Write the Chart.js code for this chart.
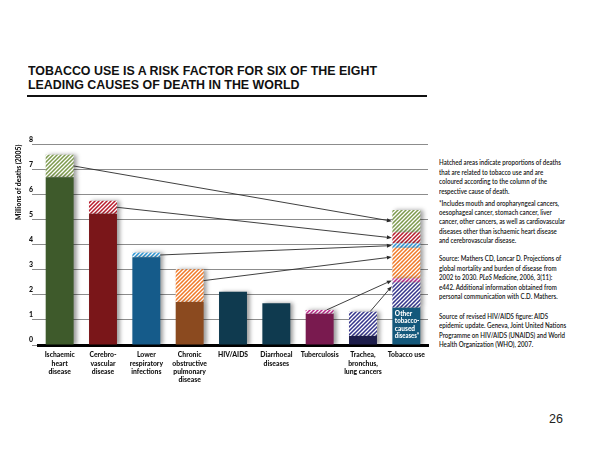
<!DOCTYPE html>
<html>
<head>
<meta charset="utf-8">
<script src="https://cdn.jsdelivr.net/npm/chart.js@4.4.1/dist/chart.umd.min.js"></script>
<style>
  html,body{margin:0;padding:0;background:#fff;}
  body{width:600px;height:450px;position:relative;overflow:hidden;}
  #title{position:absolute;left:28px;top:64.4px;font-family:"Liberation Sans",Arial,sans-serif;font-weight:bold;font-size:13px;line-height:13.6px;color:#111;white-space:nowrap;}
  #title div{transform-origin:0 0;display:block;}
  #title span{display:inline-block;}
  #rule{position:absolute;left:27px;top:94.5px;width:400px;height:2.5px;background:#111;}
  #chartWrap{position:absolute;left:0;top:130px;width:432px;height:260px;}
  #notes{position:absolute;left:439px;top:0;font-family:Lato,"Liberation Sans",sans-serif;font-weight:600;font-size:7.8px;line-height:9.4px;color:#161616;white-space:nowrap;transform-origin:0 0;}
  #notes .p{position:absolute;left:0;}
  #page{position:absolute;left:549px;top:413px;font-family:"Liberation Sans",Arial,sans-serif;font-size:12.5px;line-height:12.5px;color:#222;}
</style>
</head>
<body>
<div id="title">
  <div id="t1"><span>TOBACCO USE IS A RISK FACTOR FOR SIX OF THE EIGHT</span></div>
  <div id="t2"><span>LEADING CAUSES OF DEATH IN THE WORLD</span></div>
</div>
<div id="rule"></div>
<div id="chartWrap"><canvas id="c" width="432" height="260"></canvas></div>
<div id="notes">
  <div class="p" style="top:158.3px">Hatched areas indicate proportions of deaths<br>that are related to tobacco use and are<br>coloured according to the column of the<br>respective cause of death.</div>
  <div class="p" style="top:198.6px">*Includes mouth and oropharyngeal cancers,<br>oesophageal cancer, stomach cancer, liver<br><span id="widest">cancer, other cancers, as well as cardiovascular</span><br>diseases other than ischaemic heart disease<br>and cerebrovascular disease.</div>
  <div class="p" style="top:254.3px">Source: Mathers CD, Loncar D. Projections of<br>global mortality and burden of disease from<br>2002 to 2030. <i>PLoS Medicine</i>, 2006, 3(11):<br>e442. Additional information obtained from<br>personal communication with C.D. Mathers.</div>
  <div class="p" style="top:312px">Source of revised HIV/AIDS figure: AIDS<br>epidemic update. Geneva, Joint United Nations<br>Programme on HIV/AIDS (UNAIDS) and World<br>Health Organization (WHO), 2007.</div>
</div>
<div id="page">26</div>
<script>
// ---------- DATA ----------
const categories = [
  ["Ischaemic","heart","disease"],
  ["Cerebro-","vascular","disease"],
  ["Lower","respiratory","infections"],
  ["Chronic","obstructive","pulmonary","disease"],
  ["HIV/AIDS"],
  ["Diarrhoeal","diseases"],
  ["Tuberculosis"],
  ["Trachea,","bronchus,","lung cancers"],
  ["Tobacco use"]
];
// millions of deaths (2005), non-tobacco (solid) part; last = "Other tobacco-caused diseases"
const solidValues = [6.7, 5.24, 3.5, 1.72, 2.13, 1.67, 1.25, 0.36, 1.49];
// tobacco-related (hatched) part of each cause
const hatchedValues = [0.9, 0.52, 0.19, 1.31, null, null, 0.15, 0.97, null];
// segments of the "Tobacco use" column, bottom to top
const tobaccoPartNames = ["Trachea, bronchus, lung cancers","Tuberculosis","Chronic obstructive pulmonary disease","Lower respiratory infections","Cerebrovascular disease","Ischaemic heart disease"];
const tobaccoPartValues = [1.01, 0.16, 1.22, 0.18, 0.44, 0.89];
const tobaccoPartSource = [7, 6, 3, 2, 1, 0];
const yTickValues = [0,1,2,3,4,5,6,7,8];
const otherLabelLines = ["Other","tobacco-","caused","diseases*"];

// ---------- STYLE ----------
const solidColors = ["#3e5a2b","#7a1619","#155b8a","#8b4a1f","#0f3a4f","#0f3a4f","#791a4f","#1d1d4b","#14587b"];
const hatchColors = ["#7d9a4e","#b81d2d","#2c98d8","#f07a28","#c0288c","#c0288c","#c0288c","#36368c","#36368c"];

function hatchPattern(bg){
  const s = 4;
  const c = document.createElement('canvas'); c.width = s; c.height = s;
  const x = c.getContext('2d');
  x.fillStyle = bg; x.fillRect(0,0,s,s);
  x.strokeStyle = '#ffffff'; x.lineWidth = 1.3;
  x.beginPath();
  x.moveTo(0,s); x.lineTo(s,0);
  x.moveTo(-1,1); x.lineTo(1,-1);
  x.moveTo(s-1,s+1); x.lineTo(s+1,s-1);
  x.stroke();
  return document.getElementById('c').getContext('2d').createPattern(c,'repeat');
}

const fontFam = "Lato,'Liberation Sans',sans-serif";

const datasets = [
  {label:"Deaths", data: solidValues, backgroundColor: solidColors},
  {label:"Tobacco-related", data: hatchedValues, backgroundColor: hatchedValues.map((v,i)=>hatchPattern(hatchColors[i]))}
];
tobaccoPartValues.forEach((v,k)=>{
  const arr = categories.map(()=>null); arr[8] = v;
  datasets.push({label: tobaccoPartNames[k], data: arr, backgroundColor: hatchPattern(hatchColors[tobaccoPartSource[k]])});
});
datasets.forEach(d=>{ d.borderWidth = 0; d.categoryPercentage = 1; d.barPercentage = 0.645; });

const shadowPlugin = {
  id:'shadow',
  beforeDatasetsDraw(chart){
    const ctx = chart.ctx; ctx.save();
    ctx.shadowColor = 'rgba(0,0,0,0.38)'; ctx.shadowBlur = 4; ctx.shadowOffsetX = 3; ctx.shadowOffsetY = 0;
  },
  afterDatasetsDraw(chart){ chart.ctx.restore(); }
};

// arrow target fraction within each tobacco segment (from top)
const arrowTargetFrac = [0.15, 0.5, 0.3, 0.5, 0.5, 0.5];
const arrowPlugin = {
  id:'arrows',
  afterDatasetsDraw(chart){
    const ctx = chart.ctx;
    const tob = chart.getDatasetMeta(0).data[8];
    const tipX = tob.x - tob.width/2 - 0.5;
    ctx.save();
    ctx.strokeStyle = '#2a2a2a'; ctx.fillStyle = '#2a2a2a'; ctx.lineWidth = 0.9;
    tobaccoPartSource.forEach((src,k)=>{
      const h = chart.getDatasetMeta(1).data[src];
      let sx, sy;
      if (src <= 3) { sx = h.x + h.width/2; sy = h.y + (h.base - h.y)*(src===3?0.35:0.5); }
      else { sx = h.x + h.width*0.25; sy = h.y; }
      const seg = chart.getDatasetMeta(2+k).data[8];
      const ty = seg.y + (seg.base - seg.y)*arrowTargetFrac[k];
      const ang = Math.atan2(ty - sy, tipX - sx);
      const L = 5, W = 2;
      const bx = tipX - L*Math.cos(ang), by = ty - L*Math.sin(ang);
      ctx.beginPath(); ctx.moveTo(sx, sy); ctx.lineTo(bx, by); ctx.stroke();
      ctx.beginPath();
      ctx.moveTo(tipX, ty);
      ctx.lineTo(bx + W*Math.sin(ang), by - W*Math.cos(ang));
      ctx.lineTo(bx - W*Math.sin(ang), by + W*Math.cos(ang));
      ctx.closePath(); ctx.fill();
    });
    // label inside "Other" segment
    const o = chart.getDatasetMeta(0).data[8];
    ctx.fillStyle = '#ffffff';
    ctx.font = "900 6.5px " + fontFam;
    ctx.textBaseline = 'middle'; ctx.textAlign = 'left';
    const maxW = o.width - 3.5;
    otherLabelLines.forEach((t,i)=>{
      const w = ctx.measureText(t).width;
      ctx.save();
      ctx.translate(o.x - o.width/2 + 2.5, o.y + 5.8 + i*7.6);
      if (w > maxW) ctx.scale(maxW/w, 1);
      ctx.fillText(t, 0, 0);
      ctx.restore();
    });
    ctx.restore();
  }
};

new Chart(document.getElementById('c'), {
  type:'bar',
  data:{ labels: categories, datasets },
  options:{
    responsive:false, animation:false,
    layout:{ padding:{ top:14.7, right:4, bottom:0, left:0 } },
    plugins:{ legend:{display:false}, tooltip:{enabled:false}, title:{display:false} },
    scales:{
      x:{
        stacked:true,
        grid:{ display:false },
        border:{ display:true, color:'#000', width:3 },
        ticks:{ color:'#111', padding:-2, maxRotation:0, autoSkip:false,
          font:{ family:fontFam, size:6.8, weight:'900', lineHeight:1.22 } },
        afterFit(s){ s.height = 45; }
      },
      y:{
        stacked:true, min:0, max:8,
        afterBuildTicks(s){ s.ticks = yTickValues.map(v=>({value:v})); },
        grid:{ color:'#8c8c8c', lineWidth:1, drawTicks:true, tickLength:6 },
        border:{ display:false },
        ticks:{ color:'#111', padding:-1, labelOffset:-5,
          font:{ family:fontFam, size:7, weight:'900' },
          callback:(v)=>String(v) },
        title:{ display:true, text:'Millions of deaths (2005)', align:'end', color:'#111',
          padding:{ top:15, bottom:0 }, font:{ family:fontFam, size:6.8, weight:'900', lineHeight:1.2 } },
        afterFit(s){ s.width = 38; }
      }
    }
  },
  plugins:[shadowPlugin, arrowPlugin]
});

// fit title lines and notes widths to the reference
function fit(el, target){
  const w = el.getBoundingClientRect().width;
  return target / w;
}
const t1 = document.querySelector('#t1 span');
const s1 = fit(t1, 349);
document.getElementById('t1').style.transform = 'scaleX(' + s1 + ')';
document.getElementById('t2').style.transform = 'scaleX(' + s1 + ')';
const sn = fit(document.getElementById('widest'), 126);
document.getElementById('notes').style.transform = 'scaleX(' + sn + ')';
</script>
</body>
</html>
